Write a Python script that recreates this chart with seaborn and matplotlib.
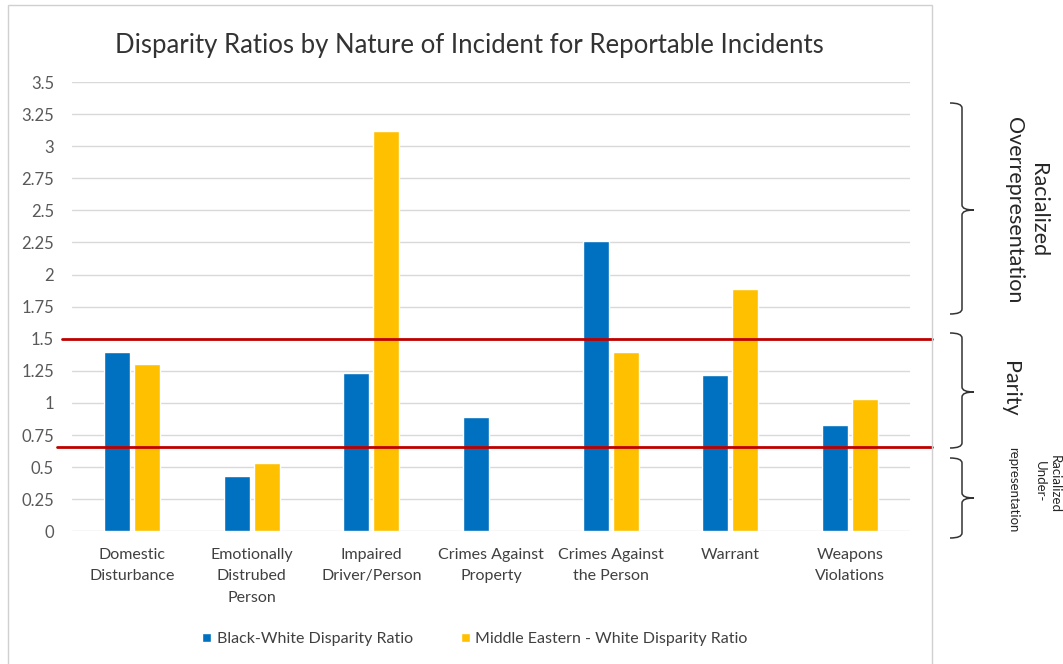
import numpy as np
import pandas as pd
import matplotlib
matplotlib.use("Agg")
import matplotlib.pyplot as plt
from matplotlib.path import Path
from matplotlib.patches import PathPatch, Rectangle
from matplotlib.transforms import Affine2D
import seaborn as sns

# ---- data -------------------------------------------------------------
categories = [
    "Domestic\nDisturbance",
    "Emotionally\nDistrubed\nPerson",
    "Impaired\nDriver/Person",
    "Crimes Against\nProperty",
    "Crimes Against\nthe Person",
    "Warrant",
    "Weapons\nViolations",
]
black_white = [1.40, 0.43, 1.23, 0.89, 2.26, 1.22, 0.83]
middle_eastern_white = [1.30, 0.53, 3.12, np.nan, 1.40, 1.89, 1.03]
series_names = ["Black-White Disparity Ratio", "Middle Eastern - White Disparity Ratio"]
series_colors = ["#0070C0", "#FFC000"]

y_ticks = [0, 0.25, 0.5, 0.75, 1, 1.25, 1.5, 1.75, 2, 2.25, 2.5, 2.75, 3, 3.25, 3.5]
y_tick_labels = ["0", "0.25", "0.5", "0.75", "1", "1.25", "1.5", "1.75",
                 "2", "2.25", "2.5", "2.75", "3", "3.25", "3.5"]

upper_threshold = 1.5
lower_threshold = 0.66

df = pd.DataFrame({
    "category": categories * 2,
    "series": [series_names[0]] * len(categories) + [series_names[1]] * len(categories),
    "ratio": black_white + middle_eastern_white,
})

# ---- style ------------------------------------------------------------
sns.set_style("white")
plt.rcParams["font.family"] = ["Lato", "DejaVu Sans"]

W, H = 1063, 664
fig = plt.figure(figsize=(W / 100, H / 100), dpi=100)
ax = fig.add_axes([72 / W, 1 - 531.3 / H, 838 / W, (531.3 - 82) / H])

sns.barplot(
    data=df, x="category", y="ratio", hue="series",
    order=categories, hue_order=series_names,
    palette=series_colors, saturation=1,
    width=0.5, gap=0.13, ax=ax, legend=True,
)

ax.set_xlim(-0.5, len(categories) - 0.5)
ax.set_ylim(0, 3.5)
ax.set_yticks(y_ticks)
ax.set_yticklabels(y_tick_labels)
ax.set_xlabel("")
ax.set_ylabel("")
for s in ax.spines.values():
    s.set_visible(False)
ax.yaxis.grid(True, color="#D9D9D9", lw=1)
ax.set_axisbelow(True)
ax.tick_params(axis="y", length=0, pad=13, labelsize=12, labelcolor="#595959")
ax.tick_params(axis="x", length=0, pad=12, labelsize=11.5, labelcolor="#404040")
for lab in ax.get_xticklabels():
    lab.set_linespacing(1.68)

# threshold lines
ax.axhline(upper_threshold, xmin=-0.012, xmax=1.026, color="#C00000", lw=2, clip_on=False, zorder=5)
ax.axhline(lower_threshold, xmin=-0.018, xmax=1.026, color="#C00000", lw=2, clip_on=False, zorder=5)

# legend
handles, labels = ax.get_legend_handles_labels()
ax.get_legend().remove()
fig.legend(handles, labels, loc="center", bbox_to_anchor=(475 / W, 1 - 639 / H),
           ncol=2, frameon=False, handlelength=0.55, handleheight=0.55,
           handletextpad=0.35, columnspacing=3.0, fontsize=11.5,
           labelcolor="#404040")

# title
fig.text(469 / W, 1 - 45 / H, "Disparity Ratios by Nature of Incident for Reportable Incidents",
         ha="center", va="center", fontsize=18.5, color="#333333")

# chart frame
fig.patches.append(Rectangle((8 / W, -0.02), (932 - 8) / W, 1 - 5 / H + 0.02,
                             transform=fig.transFigure, fill=False,
                             ec="#D0D0D0", lw=1))

# braces on the right
px = Affine2D().scale(1 / W, -1 / H).translate(0, 1) + fig.transFigure


def brace(y0, y1, ym, xl=950, xv=962, xr=974, r=5):
    verts = [
        (xl, y0), (xv, y0), (xv, y0 + r),
        (xv, ym - r), (xv, ym), (xr, ym),
        (xv, ym), (xv, ym + r),
        (xv, y1 - r), (xv, y1), (xl, y1),
    ]
    codes = [
        Path.MOVETO, Path.CURVE3, Path.CURVE3,
        Path.LINETO, Path.CURVE3, Path.CURVE3,
        Path.CURVE3, Path.CURVE3,
        Path.LINETO, Path.CURVE3, Path.CURVE3,
    ]
    fig.patches.append(PathPatch(Path(verts, codes), transform=px,
                                 fill=False, ec="#333333", lw=1.1))


brace(103, 314, 210)
brace(333, 448, 392)
brace(458, 538, 498)


def side_text(x, y, s, size):
    fig.text(x / W, 1 - y / H, s, rotation=-90, ha="center", va="center",
             fontsize=size, color="#262626", multialignment="center",
             linespacing=1.3)


side_text(1026, 210, "Racialized\nOverrepresentation", 15.5)
side_text(1010, 389, "Parity", 15.5)
side_text(1055, 484, "Racialized", 9.5)
side_text(1040, 482, "Under-", 9.5)
side_text(1013, 490, "representation", 9.5)

fig.savefig("out.png", dpi=100, facecolor="white")
